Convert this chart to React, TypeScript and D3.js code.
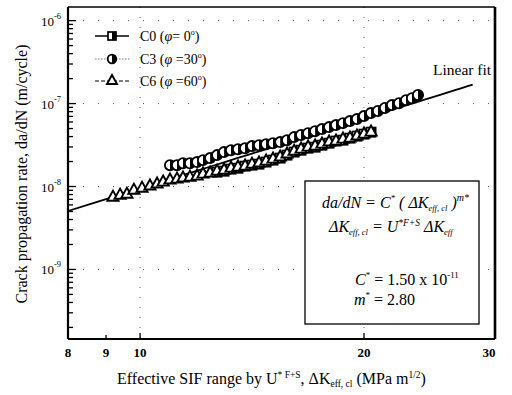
import React from "react";
import * as d3 from "d3";

// ---- data ----
const c0K = [12.69, 12.97, 13.25, 13.54, 13.84, 14.14, 14.45, 14.77, 15.09, 15.43, 15.76, 16.11, 16.46, 16.82, 17.19, 17.56, 17.95, 18.34, 18.74, 19.15, 19.57, 20.0, 20.44];
const c0Rate = [1.49e-8, 1.53e-8, 1.62e-8, 1.66e-8, 1.76e-8, 1.81e-8, 1.86e-8, 1.97e-8, 2.08e-8, 2.2e-8, 2.39e-8, 2.6e-8, 2.74e-8, 2.9e-8, 2.98e-8, 3.15e-8, 3.33e-8, 3.53e-8, 3.62e-8, 3.83e-8, 4.05e-8, 4.28e-8, 4.52e-8];

const c3K = [10.97, 11.21, 11.42, 11.67, 11.93, 12.15, 12.42, 12.69, 12.97, 13.25, 13.54, 13.84, 14.14, 14.45, 14.77, 15.09, 15.43, 15.76, 16.11, 16.46, 16.82, 17.19, 17.56, 17.95, 18.34, 18.74, 19.15, 19.57, 20.0, 20.44, 20.88, 21.34, 21.81, 22.29, 22.78, 23.2, 23.64];
const c3Rate = [1.81e-8, 1.81e-8, 1.91e-8, 1.91e-8, 1.97e-8, 2.08e-8, 2.2e-8, 2.39e-8, 2.6e-8, 2.74e-8, 2.82e-8, 2.9e-8, 3.07e-8, 3.15e-8, 3.24e-8, 3.33e-8, 3.43e-8, 3.62e-8, 3.94e-8, 4.17e-8, 4.4e-8, 4.65e-8, 4.92e-8, 5.2e-8, 5.5e-8, 5.81e-8, 6.15e-8, 6.5e-8, 7.06e-8, 7.68e-8, 8.12e-8, 8.83e-8, 9.59e-8, 1.01e-7, 1.1e-7, 1.16e-7, 1.27e-7];

const c6K = [9.195, 9.4, 9.6, 9.81, 10.06, 10.31, 10.54, 10.74, 10.97, 11.21, 11.42, 11.67, 11.93, 12.15, 12.42, 12.69, 12.97, 13.25, 13.54, 13.84, 14.14, 14.45, 14.77, 15.09, 15.43, 15.76, 16.11, 16.46, 16.82, 17.19, 17.56, 17.95, 18.34, 18.74, 19.15, 19.57, 20.0, 20.44];
const c6Rate = [7.63e-9, 8.07e-9, 8.3e-9, 9.28e-9, 9.81e-9, 1.04e-8, 1.1e-8, 1.16e-8, 1.23e-8, 1.26e-8, 1.3e-8, 1.33e-8, 1.37e-8, 1.45e-8, 1.49e-8, 1.57e-8, 1.62e-8, 1.71e-8, 1.76e-8, 1.81e-8, 1.91e-8, 1.97e-8, 2.08e-8, 2.2e-8, 2.33e-8, 2.53e-8, 2.74e-8, 2.9e-8, 3.07e-8, 3.15e-8, 3.33e-8, 3.53e-8, 3.62e-8, 3.83e-8, 3.94e-8, 4.17e-8, 4.4e-8, 4.65e-8];

const fitC = 1.5e-11;
const fitM = 2.8;
const fitRange = [8, 28];

const xTicks = [8, 9, 10, 20, 30];
const xGrid = [10, 20];
const yDecades = [-10, -9, -8, -7, -6];
const yLabelDecades = [-9, -8, -7, -6];

const FONT = "Liberation Serif, serif";
const NB = "\u00A0";

function HalfSquare({ x, y, s = 4.6 }: { x: number; y: number; s?: number }) {
  return (
    <g>
      <rect x={x - s} y={y - s} width={2 * s} height={2 * s} fill="#fff" stroke="#000" strokeWidth={1.7} />
      <rect x={x} y={y - s} width={s} height={2 * s} fill="#000" />
    </g>
  );
}
function HalfCircle({ x, y, r = 5.1 }: { x: number; y: number; r?: number }) {
  return (
    <g>
      <circle cx={x} cy={y} r={r} fill="#fff" stroke="#000" strokeWidth={1.8} />
      <path d={`M${x},${y - r} A${r},${r} 0 0 1 ${x},${y + r} Z`} fill="#000" />
    </g>
  );
}
function Tri({ x, y, s = 5.6 }: { x: number; y: number; s?: number }) {
  return (
    <path
      d={`M${x},${y - s} L${x + s},${y + s * 0.8} L${x - s},${y + s * 0.8} Z`}
      fill="#fff"
      stroke="#000"
      strokeWidth={1.9}
      strokeLinejoin="miter"
    />
  );
}

export default function App() {
  const W = 512, H = 395;
  const L = 68, R = 495, T = 7, B = 339;
  const x = d3.scaleLog().domain([8, 30]).range([L, R]);
  const y = d3.scaleLog().domain([1.45e-10, 1.46e-6]).range([B, T]);

  const yMinor: number[] = [];
  yDecades.forEach((d) => {
    for (let k = 1; k <= 9; k++) {
      const v = k * Math.pow(10, d);
      if (v >= 1.45e-10 && v <= 1.46e-6) yMinor.push(v);
    }
  });

  const fitPts = d3.range(fitRange[0], fitRange[1] + 0.001, 0.5).map((k) => [k, fitC * Math.pow(k, fitM)] as [number, number]);
  const fitLine = d3.line<[number, number]>().x((d) => x(d[0])).y((d) => y(d[1]))(fitPts) || "";

  const ts = { fontFamily: FONT };

  return (
    <svg width={W} height={H} style={{ position: "absolute", left: 0, top: 0, background: "#fff", fontFamily: FONT }}>
      <rect width={W} height={H} fill="#fff" />
      {/* grid */}
      {xGrid.map((g) => (
        <line key={"xg" + g} x1={x(g)} x2={x(g)} y1={T} y2={B} stroke="#555" strokeWidth={1} strokeDasharray="1,9" />
      ))}
      {yLabelDecades.map((d) => (
        <line key={"yg" + d} x1={L} x2={R} y1={y(Math.pow(10, d))} y2={y(Math.pow(10, d))} stroke="#555" strokeWidth={1} strokeDasharray="1,14" />
      ))}

      {/* fit line */}
      <path d={fitLine} fill="none" stroke="#000" strokeWidth={1.8} />

      {/* data */}
      {c0K.map((k, i) => (
        <HalfSquare key={"c0" + i} x={x(k)} y={y(c0Rate[i])} />
      ))}
      {c6K.map((k, i) => (
        <Tri key={"c6" + i} x={x(k)} y={y(c6Rate[i])} />
      ))}
      {c3K.map((k, i) => (
        <HalfCircle key={"c3" + i} x={x(k)} y={y(c3Rate[i])} />
      ))}

      {/* frame */}
      <line x1={L} x2={R} y1={T} y2={T} stroke="#000" strokeWidth={1.6} />
      <line x1={R} x2={R} y1={T} y2={B} stroke="#000" strokeWidth={2.6} />
      <line x1={L} x2={L} y1={T} y2={B} stroke="#000" strokeWidth={2.2} />
      <line x1={L} x2={R} y1={B} y2={B} stroke="#000" strokeWidth={2.2} />

      {/* y ticks */}
      {yMinor.map((v, i) => {
        const major = Math.abs(Math.log10(v) - Math.round(Math.log10(v))) < 1e-9;
        return <line key={"yt" + i} x1={L} x2={L + (major ? 8 : 5)} y1={y(v)} y2={y(v)} stroke="#000" strokeWidth={1.3} />;
      })}
      {yLabelDecades.map((d) => (
        <text key={"yl" + d} x={41} y={y(Math.pow(10, d)) + 5} fontSize={13} style={ts}>
          10
          <tspan dy={-7} fontSize={8.5}>{String(d)}</tspan>
        </text>
      ))}

      {/* x ticks */}
      {xTicks.filter((t) => t > 8 && t < 30).map((t) => (
        <line key={"xt" + t} x1={x(t)} x2={x(t)} y1={B} y2={B - (t === 9 ? 4 : 6)} stroke="#000" strokeWidth={1.3} />
      ))}
      {xTicks.map((t) => (
        <text key={"xl" + t} x={x(t) - (t === 30 ? 6 : 0)} y={357} fontSize={13} textAnchor="middle" fontWeight="bold" style={ts}>
          {t}
        </text>
      ))}

      {/* axis titles */}
      <text transform="translate(27,174) rotate(-90)" textAnchor="middle" fontSize={16} style={ts}>
        Crack propagation rate, da/dN (m/cycle)
      </text>
      <text x={117} y={384} fontSize={16} style={ts}>
        {"Effective SIF range by U"}
        <tspan dy={-6} fontSize={9.5}>{"*" + NB + "F+S"}</tspan>
        <tspan dy={6}>{"," + NB + "ΔK"}</tspan>
        <tspan dy={3} fontSize={9.5}>{"eff, cl"}</tspan>
        <tspan dy={-3}>{NB + "(MPa m"}</tspan>
        <tspan dy={-6} fontSize={9.5}>1/2</tspan>
        <tspan dy={6}>)</tspan>
      </text>

      {/* legend */}
      <g fontSize={14} style={ts}>
        <line x1={95} x2={129} y1={36} y2={36} stroke="#000" strokeWidth={1.3} />
        <HalfSquare x={112} y={36} s={4} />
        <text x={140} y={41} style={ts}>
          {"C0 ("}<tspan fontStyle="italic">φ</tspan>{"=" + NB + "0"}<tspan dy={-6} fontSize={8}>o</tspan><tspan dy={6}>)</tspan>
        </text>
        <line x1={95} x2={130} y1={59} y2={59} stroke="#777" strokeWidth={1.2} strokeDasharray="1.5,1.5" />
        <HalfCircle x={112} y={59} r={4.3} />
        <text x={140} y={64} style={ts}>
          {"C3 ("}<tspan fontStyle="italic">φ</tspan>{NB + "=30"}<tspan dy={-6} fontSize={8}>o</tspan><tspan dy={6}>)</tspan>
        </text>
        <line x1={95} x2={130} y1={81} y2={81} stroke="#000" strokeWidth={1.2} strokeDasharray="4,2" />
        <Tri x={112} y={80} s={5} />
        <text x={140} y={86} style={ts}>
          {"C6 ("}<tspan fontStyle="italic">φ</tspan>{NB + "=60"}<tspan dy={-6} fontSize={8}>o</tspan><tspan dy={6}>)</tspan>
        </text>
      </g>

      <text x={433} y={75} fontSize={15.5} style={ts}>Linear fit</text>

      {/* formula box */}
      <rect x={305} y={181} width={174} height={143} fill="#fff" stroke="#000" strokeWidth={1.3} />
      <text x={322} y={208} fontSize={16} fontStyle="italic" style={ts}>
        {"da/dN = C"}
        <tspan dy={-7} fontSize={9}>*</tspan>
        <tspan dy={7}>{NB + "(" + NB + "ΔK"}</tspan>
        <tspan dy={3} fontSize={8.5}>{"eff, cl"}</tspan>
        <tspan dy={-3}>{NB + ")"}</tspan>
        <tspan dy={-7} fontSize={10}>m*</tspan>
      </text>
      <text x={329} y={232} fontSize={16} fontStyle="italic" style={ts}>
        {"ΔK"}
        <tspan dy={3} fontSize={8.5}>{"eff, cl"}</tspan>
        <tspan dy={-3}>{NB + "=" + NB + "U"}</tspan>
        <tspan dy={-6} fontSize={9.5}>{"*F+S"}</tspan>
        <tspan dy={6}>{NB + "ΔK"}</tspan>
        <tspan dy={3} fontSize={8.5}>eff</tspan>
      </text>
      <text x={355} y={285} fontSize={16} style={ts}>
        <tspan fontStyle="italic">C</tspan>
        <tspan dy={-7} fontSize={9}>*</tspan>
        <tspan dy={7}>{NB + "= 1.50 x 10"}</tspan>
        <tspan dy={-7} fontSize={9}>-11</tspan>
      </text>
      <text x={354} y={305} fontSize={16} style={ts}>
        <tspan fontStyle="italic">m</tspan>
        <tspan dy={-7} fontSize={9}>*</tspan>
        <tspan dy={7}>{NB + "= 2.80"}</tspan>
      </text>
    </svg>
  );
}
